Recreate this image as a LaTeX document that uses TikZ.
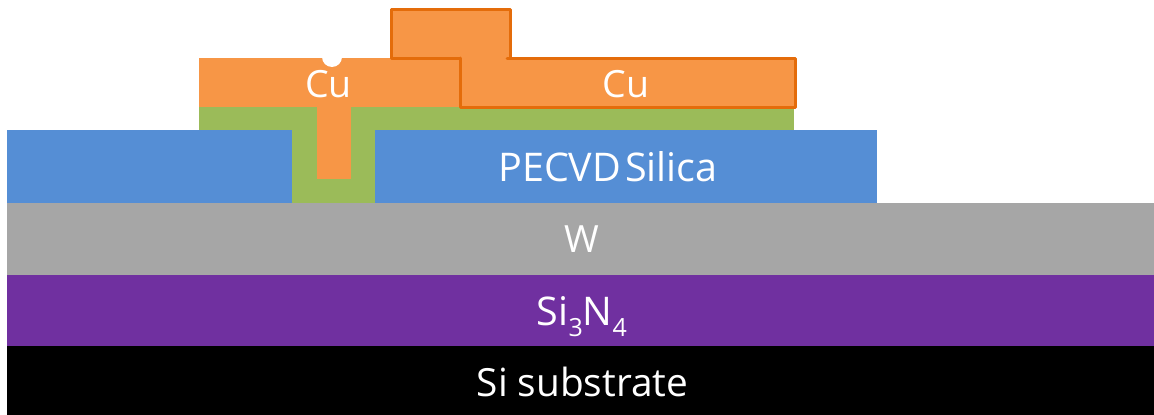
\documentclass[tikz,border=0pt]{standalone}
\usepackage{fontspec}
\setmainfont{Open Sans}
\definecolor{cuF}{HTML}{F79646}
\definecolor{cuL}{HTML}{E46C0A}
\definecolor{blueF}{HTML}{558ED5}
\definecolor{greenF}{HTML}{9BBB59}
\definecolor{greyF}{HTML}{A6A6A6}
\definecolor{purpF}{HTML}{7030A0}
\newcommand{\subn}[1]{\raisebox{-0.28em}{\fontsize{25}{25}\selectfont #1}}
\tikzset{
  lab/.style={text=white,font=\fontsize{37.5}{40}\selectfont,inner sep=0pt,anchor=base},
  labbig/.style={lab,font=\fontsize{39.5}{42}\selectfont},
  labmid/.style={lab,font=\fontsize{38.8}{42}\selectfont},
  culine/.style={draw=cuL,line width=3pt,line join=round,line cap=round}
}
\begin{document}
\begin{tikzpicture}[x=1pt,y=-1pt]
\useasboundingbox (0,0) rectangle (1154,415);
% stack
\fill[black] (7,346) rectangle (1154,415);
\fill[purpF] (7,275) rectangle (1154,346);
\fill[greyF] (7,203) rectangle (1154,275);
\fill[blueF] (7,130) rectangle (292,203);
\fill[blueF] (375,130) rectangle (877,203);
\fill[greenF] (199,107) rectangle (794,130);
\fill[greenF] (292,130) rectangle (375,203);
\fill[cuF] (198.5,58) rectangle (462,107);
\fill[cuF] (317,107) rectangle (351,179);
\fill[white] (332,57) circle (10);
% top electrode
\fill[cuF] (391,9) -- (510,9) -- (510,58) -- (795,58) -- (795,107) -- (460,107) -- (460,58) -- (391,58) -- cycle;
\draw[culine] (460,58) -- (391,58) -- (391,9) -- (510,9) -- (510,58);
\draw[culine] (507,58) -- (795,58) -- (795,107) -- (460,107) -- (460,58);
% labels
\node[lab] (cuA) at (328.5,97) {Cu};
\node[lab] (cuB) at (626,97) {Cu};
\node[labbig] (sil) at (608,181) {\spaceskip=4pt PECVD Silica};
\node[lab] (w) at (582,252) {W};
\node[labbig] (nit) at (582,325) {Si\subn{3}N\subn{4}};
\node[labmid] (sub) at (582.5,396) {Si substrate};
\end{tikzpicture}
\end{document}
